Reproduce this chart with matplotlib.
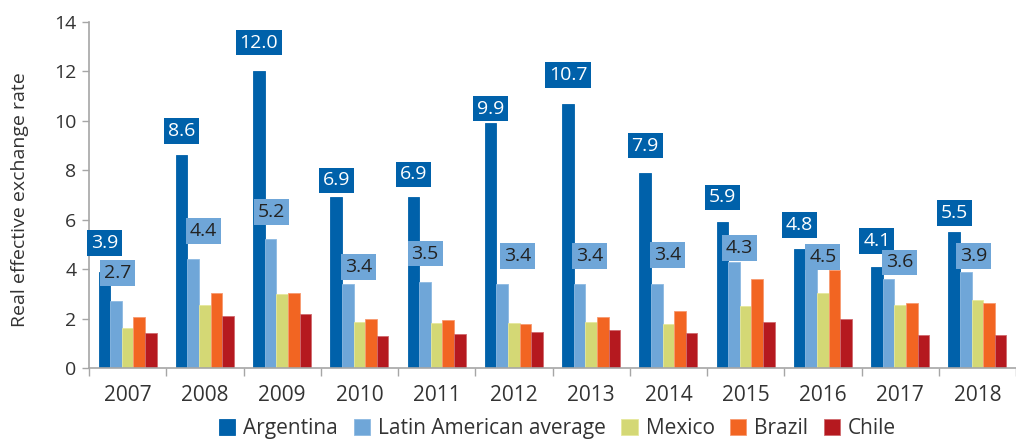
import matplotlib
matplotlib.use("Agg")
import matplotlib.pyplot as plt
import numpy as np

years = ["2007", "2008", "2009", "2010", "2011", "2012", "2013", "2014", "2015", "2016", "2017", "2018"]
argentina = [3.9, 8.6, 12.0, 6.9, 6.9, 9.9, 10.7, 7.9, 5.9, 4.8, 4.1, 5.5]
latam_avg = [2.7, 4.4, 5.2, 3.4, 3.5, 3.4, 3.4, 3.4, 4.3, 4.5, 3.6, 3.9]
mexico = [1.6, 2.55, 3.0, 1.85, 1.83, 1.83, 1.88, 1.8, 2.5, 3.02, 2.55, 2.74]
brazil = [2.08, 3.02, 3.05, 2.0, 1.95, 1.8, 2.06, 2.32, 3.6, 3.97, 2.65, 2.65]
chile = [1.4, 2.12, 2.17, 1.28, 1.38, 1.47, 1.54, 1.42, 1.86, 1.98, 1.32, 1.35]

series_names = ["Argentina", "Latin American average", "Mexico", "Brazil", "Chile"]
colors = ["#0061AA", "#6FA6D8", "#D4D875", "#F26522", "#B5191F"]
edge_colors = ["#0061AA", "#8DB9E2", "#E6E89C", "#F79A70", "#D06A6E"]

# label placement (layout only): vertical offsets in data units, horizontal in bar widths
arg_label_dy = [1.16, 1.0, 1.17, 0.69, 0.93, 0.6, 1.17, 1.1, 1.0, 1.0, 1.05, 0.77]
lat_label_dy = [1.13, 1.13, 1.1, 0.69, 1.13, 1.13, 1.13, 1.17, 0.57, 0.0, 0.67, 0.62]
lat_label_dx = [0.1, 0.9, 0.1, 0.9, 0.0, 1.3, 0.85, 0.95, 0.45, 1.0, 0.95, 0.65]

plt.rcParams['font.family'] = ['Open Sans', 'DejaVu Sans']

fig = plt.figure(figsize=(10.16, 4.42), dpi=100)
ax = fig.add_axes([89/1016, 74/442, 1 - 89/1016, 346/442])

x = np.arange(len(years))
bw = 0.15
data = [argentina, latam_avg, mexico, brazil, chile]
for i, (vals, name) in enumerate(zip(data, series_names)):
    ax.bar(x + (i - 2) * bw, vals, width=bw, color=colors[i], edgecolor=edge_colors[i],
           linewidth=0.6, label=name, zorder=2)

for j in range(len(years)):
    xa = x[j] - 2 * bw
    ax.text(xa, argentina[j] + arg_label_dy[j], f"{argentina[j]:.1f}", ha='center', va='center',
            fontsize=14, color='white', zorder=5,
            bbox=dict(boxstyle='square,pad=0.2', fc=colors[0], ec='none'))
    xl = x[j] - bw + lat_label_dx[j] * bw
    ax.text(xl, latam_avg[j] + lat_label_dy[j], f"{latam_avg[j]:.1f}", ha='center', va='center',
            fontsize=14, color='#222222', zorder=5,
            bbox=dict(boxstyle='square,pad=0.2', fc=colors[1], ec='none'))

ax.set_ylim(0, 14)
ax.set_xlim(-0.5, 11.5 - 13/78.3)
ax.set_yticks(np.arange(0, 15, 2))
ax.set_xticks(x)
ax.set_xticklabels(years)
ax.set_xticks(np.arange(-0.5, 11.6, 1), minor=True)
ax.tick_params(axis='x', which='major', length=0, pad=12.5, labelsize=15, labelcolor='#333333')
ax.tick_params(axis='x', which='minor', length=5.5, color='#A6A6A6', width=1)
ax.tick_params(axis='y', length=5, color='#A6A6A6', width=1, labelsize=14, labelcolor='#333333', pad=4)

for s in ['top', 'right']:
    ax.spines[s].set_visible(False)
for s in ['left', 'bottom']:
    ax.spines[s].set_color('#A6A6A6')
    ax.spines[s].set_linewidth(1.2)

fig.text(20/1016, 1 - 200/442, "Real effective exchange rate", rotation=90, ha='center', va='center',
         fontsize=14, color='#333333')

handles, labels = ax.get_legend_handles_labels()
fig.legend(handles, labels, loc='lower center', bbox_to_anchor=(0.549, -0.036), ncol=5,
           frameon=False, fontsize=15, handlelength=0.78, handleheight=0.78, handletextpad=0.38,
           columnspacing=0.75, labelcolor='#333333')

fig.savefig("out.png", dpi=100)
